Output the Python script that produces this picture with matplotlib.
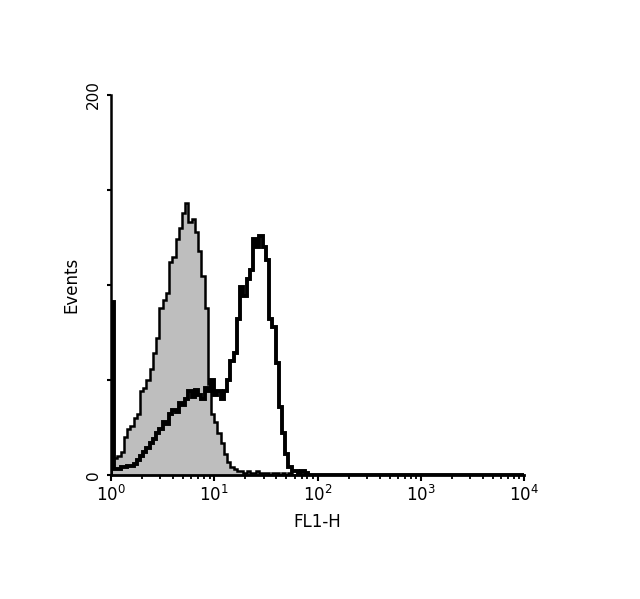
import numpy as np
import matplotlib
matplotlib.use("Agg")
import matplotlib.pyplot as plt

# 128 log channels over 4 decades (32 per decade); channels beyond listed are 0
n_channels = 128
per_decade = 32

gray_counts = [9, 9, 10, 12, 20, 24, 26, 30, 32, 44,
               46, 50, 56, 64, 72, 88, 92, 96, 112, 115,
               124, 130, 138, 143, 133, 135, 128, 118, 105, 88,
               48, 32, 28, 22, 17, 11, 7, 4, 3, 2,
               2, 1, 2, 1, 1, 2, 1, 1, 1, 0,
               1, 1, 0, 1, 0, 1]

black_counts = [91, 3, 3, 4, 4, 5, 5, 6, 8, 10,
                12, 14, 17, 19, 22, 24, 28, 27, 32, 34,
                33, 38, 37, 40, 44, 41, 45, 42, 40, 46,
                44, 50, 42, 44, 40, 44, 50, 60, 64, 82,
                99, 94, 103, 108, 124, 120, 126, 120, 113, 82,
                78, 59, 36, 22, 11, 4, 2, 2, 1, 2,
                1, 0]

xtick_labels = [r"$10^{0}$", r"$10^{1}$", r"$10^{2}$", r"$10^{3}$", r"$10^{4}$"]
ytick_values = [0, 50, 100, 150, 200]
ytick_labels = ["0", "", "", "", "200"]

def pad(v):
    a = np.zeros(n_channels)
    a[:len(v)] = v
    return a

edges = 10 ** (np.arange(n_channels + 1) / per_decade)
gray = pad(gray_counts)
black = pad(black_counts)

fig = plt.figure(figsize=(6.4, 5.99), dpi=100)
ax = fig.add_axes([111/640, 1 - 475/599, (524-111)/640, (475-95)/599])

ax.stairs(gray, edges, fill=True, color="#bebebe", zorder=2)
ax.stairs(gray, edges, color="black", lw=1.8, zorder=3)
ax.stairs(black, edges, color="black", lw=2.8, zorder=4)

ax.set_xscale("log")
ax.set_xlim(1, 1e4)
ax.set_ylim(0, 200)

for s in ["top", "right"]:
    ax.spines[s].set_visible(False)
ax.spines["left"].set_linewidth(1.8)
ax.spines["bottom"].set_linewidth(2.0)

ax.set_xticks([1, 10, 100, 1000, 10000])
ax.set_xticklabels(xtick_labels, fontsize=12)
ax.xaxis.set_minor_locator(matplotlib.ticker.LogLocator(base=10, subs=np.arange(2, 10)))
ax.xaxis.set_minor_formatter(matplotlib.ticker.NullFormatter())
ax.tick_params(axis="x", which="major", length=4, width=1.5, direction="out", pad=3)
ax.tick_params(axis="x", which="minor", length=3, width=1.3, direction="out")

ax.set_yticks(ytick_values)
ax.set_yticklabels(ytick_labels, rotation=90, va="center", fontsize=11)
ax.tick_params(axis="y", which="major", length=3, width=1.5, direction="out", pad=4)

ax.set_xlabel("FL1-H", fontsize=12, labelpad=6)
ax.set_ylabel("Events", fontsize=12, labelpad=4)

fig.savefig("out.png", dpi=100)
